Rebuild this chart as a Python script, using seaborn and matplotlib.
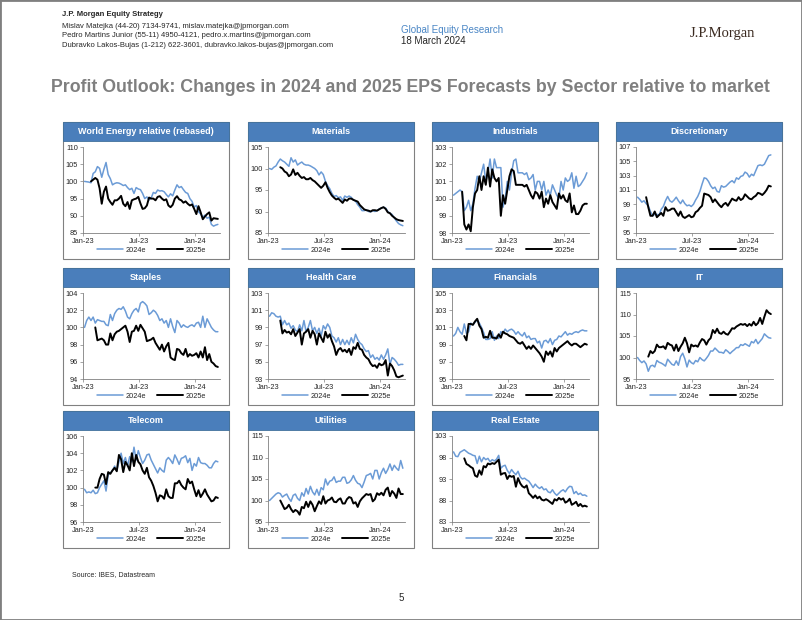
import matplotlib
matplotlib.use("Agg")
import matplotlib.pyplot as plt
import matplotlib.dates as mdates
from matplotlib.patches import Rectangle
import numpy as np
import pandas as pd
import seaborn as sns

# Weekly sector EPS forecasts relative to market (rebased), last obs 15 Mar 2024
dates = pd.date_range(end="2024-03-15", periods=63, freq="7D")

energy_24 = [100, 99.9, 99.8, 99.6, 102.3, 102.8, 104.3, 103.8, 101.2, 103.5, 105.5, 102, 100.8, 99, 99.4, 99.6,
             99.5, 99.2, 98.8, 99, 98.2, 97.6, 98, 96.5, 98.2, 97.8, 97.6, 96.5, 95, 95.5, 94.6, 95.2, 96.8, 96.5,
             97.5, 97.2, 97.3, 97, 96.2, 95.5, 96.4, 95.8, 97.5, 99, 98.2, 98.5, 97.6, 96.8, 96.5, 95, 94.2, 92.5,
             93, 91.2, 90.5, 89.6, 90.2, 89.3, 89.6, 87.5, 87, 87.3, 87.5]
energy_25 = [100, 100.5, 101, 100.5, 98, 93.5, 97, 98.5, 95, 94, 93.2, 94.5, 94.5, 95, 95.8, 93.5, 92.8, 94, 92,
             94.5, 94.8, 95, 95.5, 93.6, 92, 92.2, 93, 95.3, 95, 95, 94.5, 95.5, 95.7, 95, 94.5, 94.8, 93, 92.5,
             93.2, 95, 95.7, 94.8, 94.5, 93.8, 94.2, 93.5, 93, 93.3, 92, 90.5, 92.8, 91, 89, 89.8, 90.5, 91, 88.6,
             89.3, 89.2, 89.1]

materials_24 = [100, 99.8, 100.3, 100.6, 101.5, 102.2, 101.8, 101.5, 101, 100.5, 102.5, 101.5, 102, 100.8, 101.2,
                101.5, 101, 100.8, 100.8, 100.6, 100.3, 100, 99.5, 98.5, 99.2, 98.6, 97, 96, 95.3, 94.2, 93.5, 93.7,
                93.2, 93.4, 92.6, 93.6, 93.3, 93.6, 93.3, 92.7, 92.4, 91.6, 91, 90.2, 90.2, 90.4, 90, 89.9, 90.2, 90,
                90.2, 90.6, 90.8, 91, 90.8, 90, 89.6, 89.3, 88.5, 87.8, 87.2, 86.9, 86.7]
materials_25 = [100.3, 100, 99.3, 99, 98.2, 98.6, 99.8, 98.5, 99, 98.3, 97.8, 98, 97.5, 97.5, 97.8, 97.3, 97, 96.5,
                96, 95.5, 96, 96.8, 95.5, 94.5, 93.7, 93.2, 92.8, 93, 92.5, 92, 92.8, 92.5, 93, 93, 92.7, 92.5, 92.3,
                91.5, 91, 90.5, 90.3, 90.2, 90, 90.3, 90.3, 90.2, 90.5, 90.8, 91, 90.6, 89.8, 89.6, 89, 88.6, 88.2,
                88, 87.9, 87.8]

industrials_24 = [100.2, 100.3, 100.4, 100.5, 100.4, 99.3, 99.5, 99.9, 99.3, 99.7, 100.6, 101.3, 101, 101.5, 102,
                  101, 101.5, 102.3, 101.2, 102.3, 101.8, 101.8, 101.8, 99.5, 100, 101, 100.5, 101.5, 102.2, 102.3,
                  101.5, 101.5, 101.5, 101.4, 101.5, 101.1, 101.2, 101.4, 100.5, 101, 101, 100.5, 101, 100.2, 100.5,
                  100.2, 100.8, 100.5, 100.2, 100, 101, 100.5, 101.2, 101, 101.1, 101.5, 100.6, 101.3, 100.7, 100.8,
                  101, 101.2, 101.5]
industrials_25 = [100.4, 98.5, 98.2, 98.5, 98.1, 99.5, 100.3, 100.5, 101.3, 100.5, 101.3, 100.8, 101.8, 100.7,
                  101.7, 101.2, 101, 101.2, 99, 100.2, 99.7, 100.5, 101.3, 101.7, 101.6, 100.8, 100.8, 100.8, 100.8,
                  100.7, 100.8, 100.5, 100.2, 100, 100.4, 100.3, 100, 100.4, 99.5, 100, 99.7, 100.2, 99.8, 99.6, 99.4,
                  100.3, 100, 100.2, 99.9, 99.8, 100.3, 99.2, 99.6, 99.1, 99.1, 99.3, 99.6, 99.7, 99.7]

discretionary_24 = [100, 99.7, 99.3, 99.5, 99.1, 98.8, 98, 97.4, 97.6, 97.6, 97.5, 98.3, 98.7, 99.5, 100.1, 99.5,
                    99.3, 99.6, 100, 99.5, 99.1, 99.6, 99.1, 98.8, 98.9, 98.7, 99, 99.6, 100.1, 100.8, 101.8, 102.7,
                    102.6, 102.2, 101.6, 101.2, 101.4, 100.8, 100.7, 101.6, 101.4, 101.5, 101.8, 102.1, 102.3, 102,
                    102.7, 102.5, 102.9, 103, 103.5, 103.3, 102.8, 103.2, 103, 103.7, 104.4, 104.5, 104.4, 104.6,
                    105.2, 105.8, 105.9]
discretionary_25 = [100, 98.6, 97.4, 97.4, 98, 97.2, 97.5, 97.8, 97.4, 98.6, 98.1, 98.2, 98.4, 98.4, 97.9, 97.4, 98,
                    97.3, 97.1, 97.3, 97.5, 97.2, 97.3, 97.9, 98.1, 98.5, 98.8, 100.5, 100.4, 100.3, 100, 99.3, 99.7,
                    99.3, 98.9, 98.6, 99, 99.2, 98.8, 99.3, 99.8, 99.6, 99.5, 100, 99.6, 99.8, 100.4, 100.1, 99.8,
                    99.7, 100, 100.2, 100.6, 100.5, 100.3, 100.6, 101, 101.6, 101.5]

staples_24 = [100, 100.8, 101.2, 100.8, 101.2, 100.5, 100.9, 100.8, 100.7, 100.7, 100.3, 100.2, 101.5, 100.8, 101.6,
              102, 102.2, 102.1, 102.4, 101.9, 101.2, 101, 101.6, 102, 102.2, 101.8, 102.8, 103, 102.8, 102.5, 101.5,
              101.7, 102, 101.8, 101.4, 100.8, 101, 100.5, 100.8, 100, 101, 100.1, 99.4, 100.8, 100.5, 100, 100.3,
              100.1, 100, 100.2, 100.3, 100.1, 100.5, 100.6, 100, 101.3, 100, 101, 100.5, 100, 99.7, 99.5, 99.5]
staples_25 = [100, 98.5, 98.6, 98.7, 98.5, 98, 98, 99.3, 98.5, 99.2, 99.5, 99.6, 99.8, 100, 100.2, 99.5, 98.3, 99.5,
              99.6, 100.2, 99.6, 100.3, 99.9, 99.5, 98.4, 98.5, 98.6, 98.8, 98.2, 97.8, 97.4, 98, 97.2, 97.8, 98.2,
              96.5, 96.3, 96.2, 97.5, 97.4, 97, 96.8, 97.5, 96.6, 96.9, 96.7, 96.8, 97, 96.5, 97.2, 96.5, 97.7, 96.2,
              96.9, 96, 95.8, 95.5, 95.4]

health_24 = [100.3, 100.7, 100.6, 100.3, 100.2, 100.3, 99.3, 99.8, 99.3, 99.5, 98.9, 99.2, 98.7, 98.5, 99.3, 98.6,
             99.8, 98.5, 99, 99.8, 98.6, 99, 98.3, 98.9, 98, 99.2, 98.8, 99.4, 99, 98, 97.8, 97.3, 97.8, 97, 97.6, 97,
             97.5, 97, 97.8, 97.2, 98.2, 97.6, 97.2, 97, 96.5, 96.2, 96.3, 95.5, 95.8, 95.3, 95.5, 95.2, 95.8, 95.3,
             95.8, 96.5, 94.7, 95.5, 95.3, 95, 94.6, 94.7, 94.7]
health_25 = [99.8, 98.3, 98.7, 98.4, 98.5, 98.2, 98.8, 98, 98.4, 98.8, 97, 98.3, 98.5, 98.8, 97.8, 98.6, 98.2, 97,
             98.3, 97.8, 97.3, 98.5, 97.8, 98.2, 97.4, 96.8, 95.8, 96.4, 96.6, 96.2, 96.4, 96.1, 96.5, 95.8, 96.7,
             96.5, 97.2, 96.5, 96.4, 95.8, 95.5, 95.3, 94.8, 94.5, 94.6, 94.3, 94.8, 94.6, 94.7, 95.2, 93.4, 94.8,
             94.5, 94, 93.3, 93.2, 93.3, 93.4]

financials_24 = [100, 100.3, 101, 100.5, 100.2, 101.4, 100.3, 100.5, 101.5, 101.3, 101.6, 101.9, 101.5, 101, 100.4,
                 99.6, 99.6, 99.7, 100.5, 99.5, 100, 99.7, 100.5, 100.3, 100.8, 100.5, 100.7, 100.8, 100.6, 100.2,
                 100.5, 100.2, 100, 100.4, 99.8, 100, 99.6, 99.7, 99.7, 99.2, 99.4, 98.6, 99.4, 99.5, 99.2, 99.7, 99,
                 99.5, 99.6, 100, 99.9, 100.2, 100.5, 100.1, 100.3, 100.2, 100.4, 100.5, 100.4, 100.6, 100.7, 100.6,
                 100.6]
financials_25 = [100, 99.5, 101.4, 101.4, 101.3, 101.7, 102, 101.2, 100.8, 99.8, 99.9, 99.8, 100.6, 99.8, 99.8, 99.7,
                 100.2, 99.8, 100.5, 100.3, 100.2, 100, 99.9, 99.8, 99.5, 99.2, 99.1, 99.3, 98.9, 98.5, 98.8, 98.5,
                 98.9, 98.6, 98.3, 98, 97.6, 97, 98.2, 97.8, 98.2, 97.6, 98.6, 98.2, 98.6, 98.8, 99, 99.2, 99.4, 99.1,
                 98.9, 99.1, 99.1, 98.9, 98.7, 98.9, 99.1, 99]

it_24 = [100, 99.3, 98.8, 99.2, 98.5, 96.8, 98, 98.2, 97.8, 99.3, 98.9, 98.7, 98.4, 98, 99.6, 99, 98.4, 98.2, 99.2,
         98.2, 100.2, 101, 99.7, 97.8, 99.4, 98.8, 98.5, 99.3, 99, 100, 99.5, 99.2, 99.8, 100.5, 101.5, 101.5, 102.2,
         101.7, 101.2, 101.2, 101, 101.8, 101.4, 100.9, 101.4, 101.8, 102.3, 102.3, 103, 102.8, 103.2, 102.9, 102.6,
         103.7, 103.4, 104.2, 103.2, 103.8, 104.4, 105.5, 105, 104.6, 104.5]
it_25 = [100.2, 101.5, 101, 101.5, 103, 102.4, 102.4, 102.6, 102, 103.4, 103, 102.8, 101.6, 103, 101.5, 102.5, 103.3,
         104.6, 103.3, 101.2, 103, 102.6, 102.8, 102.5, 103.5, 104.3, 104, 103, 104, 104.5, 106.4, 105.7, 106.7,
         105.7, 105.5, 106, 105.5, 105.3, 106, 106.8, 106.7, 107.2, 107.5, 107.8, 107.6, 107.8, 107.3, 107.8, 107.4,
         108.3, 107.5, 108, 109.2, 107.8, 109.5, 111, 110.4, 110.1]

telecom_24 = [99.8, 99.4, 99.5, 99.4, 99.7, 99.3, 99.4, 100, 100.4, 100.8, 99.6, 101.5, 101.7, 102, 102.5, 102, 103,
              104, 102.8, 103.5, 102.5, 103.6, 103, 104.7, 103.2, 104.3, 103.5, 102.8, 103.2, 103.8, 103.9, 103.2,
              102.7, 102.2, 101.7, 102.3, 102, 101.8, 103.2, 103.5, 103.2, 102.8, 103.8, 103.3, 102.7, 103.4, 103.5,
              103.7, 102.9, 103.4, 102, 102.8, 102.5, 103.5, 102.9, 102.8, 102.8, 102.6, 102.3, 102.3, 102.8, 103.1,
              103]
telecom_25 = [100, 100, 101, 101.6, 101.5, 100.4, 101.8, 101.6, 102, 102.3, 101.9, 103.8, 103.3, 101.8, 103, 102.6,
              102, 104, 102.5, 103.8, 103, 102.7, 102, 101.6, 102.3, 101.2, 100.8, 100.2, 99.4, 98.4, 99.1, 99, 98.7,
              99.8, 99, 98.8, 98.8, 100.5, 100.5, 100.8, 100.3, 100, 99.8, 101, 100.5, 100.7, 99.8, 99, 99.7, 98.9,
              99.3, 99.8, 99.2, 98.8, 98.4, 98.5, 98.9, 98.8]

utilities_24 = [100, 100.5, 101, 101.5, 101.8, 101.6, 100.8, 101.2, 101.5, 100.5, 99.8, 101.2, 101.5, 100.5, 100,
                101.8, 101, 102.8, 101.5, 103.3, 102, 101.3, 102.6, 101.2, 103, 102.5, 105, 103.6, 104.5, 104.7,
                105.5, 104.2, 104.5, 104.5, 105.4, 105.4, 104, 104.2, 104.8, 105.8, 104.7, 104, 103.8, 103, 104.3,
                105.8, 106, 106.3, 105, 107, 107, 105, 106.5, 107.5, 106.3, 107.2, 108.5, 107, 108.2, 107.5, 107,
                109.3, 107.5]
utilities_25 = [100, 99, 98, 98.3, 99, 98, 97.3, 97.8, 97.5, 96.7, 98.5, 98.2, 99.7, 98.5, 99.8, 99, 97.5, 98.7, 99.8,
                99.2, 101, 99.3, 100, 100.2, 100.7, 99.7, 99.6, 100.2, 100.5, 99.3, 99.3, 100.3, 100.8, 100.6, 99.3,
                99.6, 98.5, 99.8, 100.5, 101, 101.5, 101.3, 101.5, 99.8, 100.3, 101.7, 101.3, 101.8, 101.2, 102.5,
                103, 101, 102.2, 101.6, 100.6, 102.8, 101.5, 101.5]

realestate_24 = [99.3, 98.3, 98.2, 99.2, 99.5, 99.8, 99.4, 99, 98.8, 98.5, 98.4, 96.6, 98.3, 97, 98, 97.5, 97.8, 97,
                 97.5, 97.2, 97.6, 98.5, 95.5, 96, 96.2, 95, 94.3, 95.2, 94.5, 94, 94.8, 93.5, 93, 93.2, 92.8, 92.5,
                 91.8, 91, 91.8, 91.2, 90.8, 91.2, 90.5, 90.7, 90, 89.8, 90.5, 89.7, 89.2, 89.7, 90.2, 90.5, 90, 90.8,
                 91.3, 91.2, 89.6, 90.1, 89.4, 89.7, 89.2, 89.3, 89]
realestate_25 = [97.8, 96.5, 96.2, 95.8, 95.5, 93.8, 93.5, 95, 94, 96, 95.7, 96.6, 96.4, 96.7, 96.5, 97, 97.5, 94,
                 94.3, 94.4, 93, 93.8, 93.5, 93.7, 91.2, 93.2, 92, 91.3, 91, 91.5, 89.7, 89.2, 88.6, 89.2, 88.5, 88.9,
                 88.2, 88, 88.3, 88, 87.6, 87.2, 88.3, 88, 88.6, 88.2, 88.5, 87.5, 87.8, 88.4, 87, 87.3, 87.7, 86.7,
                 87.2, 86.6, 86.8, 86.6]

titles = ["World Energy relative (rebased)", "Materials", "Industrials", "Discretionary",
          "Staples", "Health Care", "Financials", "IT",
          "Telecom", "Utilities", "Real Estate"]
series_24 = [energy_24, materials_24, industrials_24, discretionary_24, staples_24, health_24,
             financials_24, it_24, telecom_24, utilities_24, realestate_24]
series_25 = [energy_25, materials_25, industrials_25, discretionary_25, staples_25, health_25,
             financials_25, it_25, telecom_25, utilities_25, realestate_25]
y_ranges = [(85, 110, 5), (85, 105, 5), (98, 103, 1), (95, 107, 2), (94, 104, 2), (93, 103, 2),
            (95, 105, 2), (95, 115, 5), (96, 106, 2), (95, 115, 5), (83, 103, 5)]

sns.set_style("white")
plt.rcParams["font.family"] = ["Liberation Sans", "DejaVu Sans"]

BLUE = "#6b9bd6"
HEAD = "#4a7ebb"
GREY = "#808080"

W, H = 802, 620
fig = plt.figure(figsize=(W / 100, H / 100), dpi=100)


def fx(px):
    return px / W


def fy(py):
    return 1 - py / H


# page furniture
fig.add_artist(Rectangle((0, 0), 1, 1, transform=fig.transFigure, fill=False, ec="#7f7f7f", lw=2))
fig.text(fx(62), fy(15), "J.P. Morgan Equity Strategy", fontsize=5.5, fontweight="bold", va="center")
hdr = ["Mislav Matejka (44-20) 7134-9741, mislav.matejka@jpmorgan.com",
       "Pedro Martins Junior (55-11) 4950-4121, pedro.x.martins@jpmorgan.com",
       "Dubravko Lakos-Bujas (1-212) 622-3601, dubravko.lakos-bujas@jpmorgan.com"]
for k, line in enumerate(hdr):
    fig.text(fx(62), fy(26 + 9.8 * k), line, fontsize=5.5, va="center")
fig.text(fx(401), fy(30), "Global Equity Research", fontsize=7, color="#4a86c5", va="center")
fig.text(fx(401), fy(41), "18 March 2024", fontsize=7, va="center")
fig.text(fx(755), fy(33), "J.P.Morgan", fontsize=10.5, family="Liberation Serif", color="#3b2a20",
         ha="right", va="center")
fig.text(fx(410), fy(88), "Profit Outlook: Changes in 2024 and 2025 EPS Forecasts by Sector relative to market",
         fontsize=12.8, fontweight="bold", color="#7f7f7f", ha="center", va="center")
fig.text(fx(72), fy(575), "Source: IBES, Datastream", fontsize=5, va="center")
fig.text(fx(401), fy(598), "5", fontsize=7, ha="center", va="center")

COL_X = [63, 248, 432, 616]
ROW_Y = [122, 268, 411]
PW, PH = 166, 137

for i, title in enumerate(titles):
    left, top = COL_X[i % 4], ROW_Y[i // 4]
    lo, hi, step = y_ranges[i]
    s24, s25 = series_24[i], series_25[i]

    fig.add_artist(Rectangle((fx(left), fy(top + PH)), PW / W, PH / H, transform=fig.transFigure,
                             fill=False, ec=GREY, lw=0.8))
    fig.add_artist(Rectangle((fx(left), fy(top + 19)), PW / W, 19 / H, transform=fig.transFigure,
                             fc=HEAD, ec="#41719c", lw=0.6))
    fig.text(fx(left + PW / 2), fy(top + 9.5), title, color="white", fontsize=6.5, fontweight="bold",
             ha="center", va="center")

    ax = fig.add_axes([fx(left + 20), fy(top + 111), (PW - 29) / W, 86 / H])
    sns.lineplot(x=dates[-len(s24):], y=s24, ax=ax, color=BLUE, lw=1.1, label="2024e")
    sns.lineplot(x=dates[-len(s25):], y=s25, ax=ax, color="black", lw=1.4, label="2025e")

    ax.set_xlim(pd.Timestamp("2023-01-01"), pd.Timestamp("2024-03-22"))
    ax.set_ylim(lo, hi)
    ax.set_yticks(np.arange(lo, hi + 0.01, step))
    ax.xaxis.set_major_locator(mdates.MonthLocator(bymonth=[1, 7]))
    ax.xaxis.set_major_formatter(mdates.DateFormatter("%b-%y"))
    ax.set_xlabel("")
    ax.set_ylabel("")
    ax.tick_params(left=True, bottom=True, labelsize=5.3, length=2, width=0.5, pad=1.5, color=GREY)
    for s in ["top", "right"]:
        ax.spines[s].set_visible(False)
    for s in ["left", "bottom"]:
        ax.spines[s].set_color(GREY)
        ax.spines[s].set_linewidth(0.6)
    ax.legend(loc="center", bbox_to_anchor=(0.5, -17 / 86), ncol=2, frameon=False, fontsize=5.3,
              handlelength=3.5, columnspacing=1.5, handletextpad=0.4)

fig.savefig("out.png", dpi=100)
